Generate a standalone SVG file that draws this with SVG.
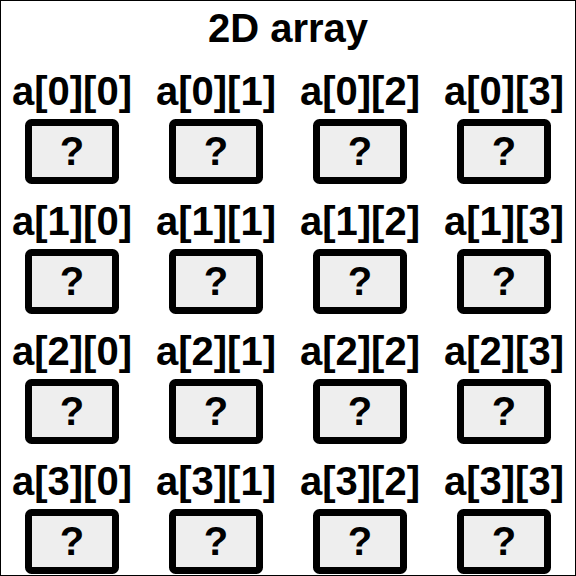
<svg xmlns="http://www.w3.org/2000/svg" width="576" height="576" viewBox="0 0 576 576">
<defs>
<style>
.t{font-family:"Liberation Sans",Arial,sans-serif;font-weight:bold;font-size:40px;fill:#000;text-anchor:middle}
.b{fill:#eeeeee;stroke:#000;stroke-width:7}
</style>
</defs>
<rect x="0" y="0" width="576" height="576" fill="#fff"/>
<rect x="0.5" y="0.5" width="575" height="575" fill="none" stroke="#000" stroke-width="1"/>
<text class="t" x="288" y="42">2D array</text>
<g id="connectors"></g>
<g id="n00"><text class="t" x="72" y="105">a[0][0]</text><rect class="b" x="28.5" y="122.5" width="87" height="58" rx="3"/><text class="t" x="72" y="165">?</text></g>
<g id="n01"><text class="t" x="216" y="105">a[0][1]</text><rect class="b" x="172.5" y="122.5" width="87" height="58" rx="3"/><text class="t" x="216" y="165">?</text></g>
<g id="n02"><text class="t" x="360" y="105">a[0][2]</text><rect class="b" x="316.5" y="122.5" width="87" height="58" rx="3"/><text class="t" x="360" y="165">?</text></g>
<g id="n03"><text class="t" x="504" y="105">a[0][3]</text><rect class="b" x="460.5" y="122.5" width="87" height="58" rx="3"/><text class="t" x="504" y="165">?</text></g>
<g id="n10"><text class="t" x="72" y="235">a[1][0]</text><rect class="b" x="28.5" y="252.5" width="87" height="58" rx="3"/><text class="t" x="72" y="295">?</text></g>
<g id="n11"><text class="t" x="216" y="235">a[1][1]</text><rect class="b" x="172.5" y="252.5" width="87" height="58" rx="3"/><text class="t" x="216" y="295">?</text></g>
<g id="n12"><text class="t" x="360" y="235">a[1][2]</text><rect class="b" x="316.5" y="252.5" width="87" height="58" rx="3"/><text class="t" x="360" y="295">?</text></g>
<g id="n13"><text class="t" x="504" y="235">a[1][3]</text><rect class="b" x="460.5" y="252.5" width="87" height="58" rx="3"/><text class="t" x="504" y="295">?</text></g>
<g id="n20"><text class="t" x="72" y="365">a[2][0]</text><rect class="b" x="28.5" y="382.5" width="87" height="58" rx="3"/><text class="t" x="72" y="425">?</text></g>
<g id="n21"><text class="t" x="216" y="365">a[2][1]</text><rect class="b" x="172.5" y="382.5" width="87" height="58" rx="3"/><text class="t" x="216" y="425">?</text></g>
<g id="n22"><text class="t" x="360" y="365">a[2][2]</text><rect class="b" x="316.5" y="382.5" width="87" height="58" rx="3"/><text class="t" x="360" y="425">?</text></g>
<g id="n23"><text class="t" x="504" y="365">a[2][3]</text><rect class="b" x="460.5" y="382.5" width="87" height="58" rx="3"/><text class="t" x="504" y="425">?</text></g>
<g id="n30"><text class="t" x="72" y="495">a[3][0]</text><rect class="b" x="28.5" y="512.5" width="87" height="58" rx="3"/><text class="t" x="72" y="555">?</text></g>
<g id="n31"><text class="t" x="216" y="495">a[3][1]</text><rect class="b" x="172.5" y="512.5" width="87" height="58" rx="3"/><text class="t" x="216" y="555">?</text></g>
<g id="n32"><text class="t" x="360" y="495">a[3][2]</text><rect class="b" x="316.5" y="512.5" width="87" height="58" rx="3"/><text class="t" x="360" y="555">?</text></g>
<g id="n33"><text class="t" x="504" y="495">a[3][3]</text><rect class="b" x="460.5" y="512.5" width="87" height="58" rx="3"/><text class="t" x="504" y="555">?</text></g>
</svg>
